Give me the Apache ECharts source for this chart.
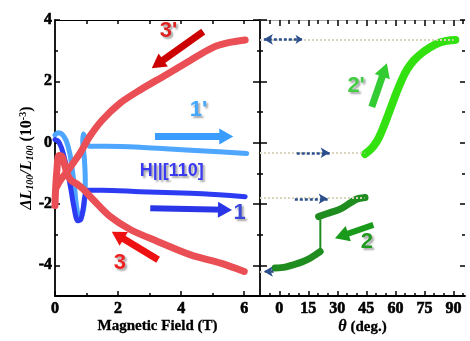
<!DOCTYPE html>
<html>
<head>
<meta charset="utf-8">
<script src="https://cdn.jsdelivr.net/npm/echarts@6/dist/echarts.min.js"></script>
<style>
html, body { margin: 0; background: #fff; }
#chart { width: 470px; height: 341px; }
</style>
</head>
<body>
<div id="chart"></div>
<script>
// tick positions
const fieldTicks = [0, 2, 4, 6];
const fieldMinor = [1, 3, 5];
const fieldTop = [1, 2, 3, 4, 5, 6];
const strainTicks = [-4, -2, 0, 2, 4];
const strainMinor = [-5, -3, -1, 1, 3];
const angleTicks = [0, 15, 30, 45, 60, 75, 90];
const angleMinor = [-5, 5, 10, 20, 25, 35, 40, 50, 55, 65, 70, 80, 85, 95];

// curve 1' (light blue)
const field1p = [0, 0.1, 0.22, 0.35, 0.47, 0.55, 0.62, 0.68, 0.78, 0.88, 0.94, 0.96, 0.93, 0.88, 0.9, 0.98, 1.1, 1.6, 2.7, 3.5, 4.3, 5.2, 6.08];
const strain1p = [0.25, 0.32, 0.28, 0.08, -0.35, -0.9, -1.45, -2.05, -2.5, -2.3, -1.9, -1.2, -0.5, 0.05, 0.28, 0.1, -0.12, -0.12, -0.15, -0.2, -0.25, -0.3, -0.35];
// curve 1 (blue)
const field1 = [0, 0.1, 0.2, 0.3, 0.4, 0.5, 0.6, 0.72, 0.82, 0.9, 0.95, 1.05, 1.5, 2.7, 4.3, 5.2, 6.03];
const strain1 = [0.1, 0.05, -0.15, -0.5, -0.95, -1.5, -2.1, -2.55, -2.5, -2.1, -1.75, -1.55, -1.55, -1.6, -1.65, -1.7, -1.76];
// curve 3' (red, upper)
const field3p = [0.05, 0.15, 0.3, 0.45, 0.6, 0.8, 1.1, 1.5, 2.05, 2.7, 3.5, 4.3, 5.0, 5.5, 6.03];
const strain3p = [-1.45, -1.25, -1.05, -0.85, -0.63, -0.33, 0.2, 0.74, 1.28, 1.72, 2.2, 2.69, 3.1, 3.26, 3.35];
// curve 3 (red, lower)
const field3 = [6.0, 5.25, 4.3, 3.25, 2.4, 1.75, 1.22, 0.9, 0.7, 0.5, 0.38, 0.3, 0.22, 0.12, 0.06, 0.02, 0.0];
const strain3 = [-4.2, -3.93, -3.66, -3.22, -2.84, -2.41, -1.87, -1.52, -1.35, -1.22, -1.0, -0.7, -0.45, -0.42, -0.9, -1.5, -2.05];

// curve 2' (light green)
const angle2p = [44.3, 47.5, 50.5, 53, 55.5, 58, 60.5, 63, 66, 69.5, 74.5, 80.5, 86.5, 91];
const strain2p = [-0.37, -0.2, 0.05, 0.38, 0.78, 1.2, 1.62, 2.0, 2.38, 2.68, 2.96, 3.2, 3.32, 3.35];
// curve 2 (dark green) in three parts
const angle2lo = [-2.2, 3, 7.4, 12, 15.9, 19, 21.1];
const strain2lo = [-4.09, -4.06, -3.98, -3.88, -3.77, -3.64, -3.55];
const angle2step = [21.2, 21.2];
const strain2step = [-3.55, -2.5];
const angle2hi = [20.3, 26.3, 31.4, 36.6, 40, 44.3];
const strain2hi = [-2.41, -2.28, -2.17, -1.97, -1.84, -1.79];

// guide levels carried over to the angle panel
const guideLevels = [3.37, -0.33, -1.8, -4.2];
const guideEnds = [90, 44, 44, -2];

function zip(xs, ys) { return xs.map((x, i) => [x, ys[i]]); }

const SERIF = 'Liberation Serif';
const SANS = 'Liberation Sans';

function tickAxis(grid, pos, min, max, values, len, extra) {
  return Object.assign({
    type: 'value', gridIndex: grid, position: pos, min: min, max: max,
    splitLine: { show: false },
    axisLine: { show: false, onZero: false },
    axisTick: { show: true, inside: true, length: len, customValues: values, lineStyle: { color: '#000', width: 1.5 } },
    axisLabel: { show: false },
    nameMoveOverlap: false
  }, extra || {});
}
const blackLine = { show: true, onZero: false, lineStyle: { color: '#000', width: 1.8 } };
const tickFont = {
  show: true, color: '#000', fontFamily: SERIF, fontWeight: 'bold', fontSize: 16,
  textBorderColor: '#000', textBorderWidth: 0.6
};

function arrow(from, to, color, width) {
  return [
    { coord: from, lineStyle: { color: color, width: width, type: 'solid' } },
    { coord: to }
  ];
}
function tag(pos, text, color, size) {
  return {
    coord: pos, symbol: 'circle', symbolSize: 0,
    label: {
      show: true, position: 'inside', formatter: text, color: color,
      fontFamily: SANS, fontWeight: 'bold', fontSize: size || 22,
      textShadowColor: 'rgba(0,0,0,0.35)', textShadowOffsetX: 2, textShadowOffsetY: 2, textShadowBlur: 2
    }
  };
}
function arrowMark(items) {
  return {
    silent: true, symbol: ['none', 'triangle'], symbolSize: [16, 14],
    label: { show: false }, emphasis: { disabled: true }, animation: false,
    data: items
  };
}

const option = {
  animation: false,
  grid: [
    { left: 55, top: 20, width: 205, height: 276, outerBoundsMode: 'none' },
    { left: 260, top: 20, width: 205, height: 276, outerBoundsMode: 'none' }
  ],
  xAxis: [
    tickAxis(0, 'bottom', 0, 6.5, fieldTicks, 5, {
      axisLine: blackLine,
      axisLabel: Object.assign({ customValues: fieldTicks, margin: 5 }, tickFont),
      name: 'Magnetic Field (T)', nameLocation: 'middle', nameGap: 23,
      nameTextStyle: { color: '#000', fontFamily: SERIF, fontWeight: 'bold', fontSize: 15, textBorderColor: '#000', textBorderWidth: 0.3 }
    }),
    tickAxis(0, 'bottom', 0, 6.5, fieldMinor, 3),
    tickAxis(0, 'top', 0, 6.5, fieldTop, 4, { axisLine: { show: true, onZero: false, lineStyle: { color: '#000', width: 1.2 } } }),
    tickAxis(1, 'bottom', -10, 96, angleTicks, 5, {
      axisLine: blackLine,
      axisLabel: Object.assign({ customValues: angleTicks, margin: 5 }, tickFont),
      name: '{i|θ} (deg.)', nameLocation: 'middle', nameGap: 23,
      nameTextStyle: {
        color: '#000', fontFamily: SERIF, fontWeight: 'bold', fontSize: 15, textBorderColor: '#000', textBorderWidth: 0.3,
        rich: { i: { fontFamily: SERIF, fontStyle: 'italic', fontWeight: 'bold', fontSize: 16, color: '#000' } }
      }
    }),
    tickAxis(1, 'bottom', -10, 96, angleMinor, 3),
    tickAxis(1, 'top', -10, 96, angleTicks, 6, { axisLine: { show: true, onZero: false, lineStyle: { color: '#aaa', width: 1.2 } } }),
    tickAxis(1, 'top', -10, 96, angleMinor, 4)
  ],
  yAxis: [
    tickAxis(0, 'left', -5, 4, strainTicks, 5, {
      axisLine: blackLine,
      axisLabel: Object.assign({ customValues: strainTicks, margin: 3 }, tickFont),
      name: '{i|ΔL}{s|100}{i|/L}{s|100} (10{p|-3})', nameLocation: 'middle', nameGap: 20,
      nameTextStyle: {
        color: '#000', fontFamily: SERIF, fontWeight: 'bold', fontSize: 16,
        rich: {
          i: { fontFamily: SERIF, fontStyle: 'italic', fontWeight: 'bold', fontSize: 16, color: '#000' },
          s: { fontFamily: SERIF, fontStyle: 'italic', fontWeight: 'bold', fontSize: 10, color: '#000', verticalAlign: 'bottom', padding: [7, 0, 0, 0] },
          p: { fontFamily: SERIF, fontWeight: 'bold', fontSize: 10, color: '#000', verticalAlign: 'top', padding: [0, 0, 7, 0] }
        }
      }
    }),
    tickAxis(0, 'left', -5, 4, strainMinor, 3),
    tickAxis(0, 'right', -5, 4, strainTicks, 7, { axisLine: blackLine }),
    tickAxis(0, 'right', -5, 4, strainMinor, 3),
    tickAxis(1, 'left', -5, 4, strainTicks, 7),
    tickAxis(1, 'left', -5, 4, strainMinor, 3),
    tickAxis(1, 'right', -5, 4, strainTicks, 5),
    tickAxis(1, 'right', -5, 4, strainMinor, 3)
  ],
  series: [
    {
      name: "1'", type: 'line', xAxisIndex: 0, yAxisIndex: 0, data: zip(field1p, strain1p),
      smooth: 0.3, showSymbol: false, lineStyle: { color: '#4ea6ff', width: 5, cap: 'round', join: 'round' },
      markLine: arrowMark([arrow([3.17, 0.2], [5.43, 0.2], '#3a9cff', 7)]),
      markPoint: { silent: true, data: [tag([4.55, 1.07], "1'", '#44a8ff')] }
    },
    {
      name: '1', type: 'line', xAxisIndex: 0, yAxisIndex: 0, data: zip(field1, strain1),
      smooth: 0.3, showSymbol: false, lineStyle: { color: '#2d3cf2', width: 5, cap: 'round', join: 'round' },
      markLine: arrowMark([arrow([3.02, -2.14], [5.39, -2.19], '#2a35e8', 6)]),
      markPoint: { silent: true, data: [tag([5.85, -2.3], '1', '#3a48d8'), tag([3.7, -0.91], 'H||[110]', '#3a3af0', 18)] }
    },
    {
      name: "3'", type: 'line', xAxisIndex: 0, yAxisIndex: 0, data: zip(field3p, strain3p),
      smooth: 0.3, showSymbol: false, lineStyle: { color: '#ea4f55', width: 7, cap: 'round', join: 'round' },
      markLine: arrowMark([arrow([4.7, 3.62], [3.25, 2.56], '#cc0000', 7)]),
      markPoint: { silent: true, data: [tag([3.6, 3.64], "3'", '#dd2222')] }
    },
    {
      name: '3', type: 'line', xAxisIndex: 0, yAxisIndex: 0, data: zip(field3, strain3),
      smooth: 0.3, showSymbol: false, lineStyle: { color: '#ea4f55', width: 7, cap: 'round', join: 'round' },
      markLine: arrowMark([arrow([3.27, -3.82], [1.99, -3.02], '#ee1111', 7)]),
      markPoint: { silent: true, data: [tag([2.06, -3.93], '3', '#ee2222')] }
    },
    {
      name: '2 low', type: 'line', xAxisIndex: 3, yAxisIndex: 4, data: zip(angle2lo, strain2lo),
      smooth: 0.3, showSymbol: false, lineStyle: { color: '#1e8c1e', width: 7, cap: 'round', join: 'round' },
      markLine: {
        silent: true, label: { show: false }, emphasis: { disabled: true }, animation: false,
        symbol: ['none', 'none'],
        data: guideLevels.map((v, i) => [
          { coord: [-10, v], lineStyle: { color: '#d9d5bd', width: 2, type: 'dotted' } },
          { coord: [guideEnds[i], v] }
        ]).concat([
          [{ coord: [-8, 3.37], symbol: 'arrow', symbolSize: [8, 9], lineStyle: { color: '#2b4f8c', width: 2.5, type: [3, 2] } }, { coord: [12, 3.37], symbol: 'arrow', symbolSize: [7, 7] }],
          [{ coord: [9, -0.33], lineStyle: { color: '#2b4f8c', width: 2.5, type: [3, 2] } }, { coord: [26, -0.33], symbol: 'arrow', symbolSize: [8, 9] }],
          [{ coord: [8, -1.83], lineStyle: { color: '#2b4f8c', width: 2.5, type: [3, 2] } }, { coord: [25, -1.83], symbol: 'arrow', symbolSize: [8, 9] }],
          [{ coord: [-3, -4.2], lineStyle: { color: '#2b4f8c', width: 2.5, type: [3, 2] } }, { coord: [-8, -4.2], symbol: 'arrow', symbolSize: [8, 9] }]
        ])
      }
    },
    {
      name: '2 step', type: 'line', xAxisIndex: 3, yAxisIndex: 4, data: zip(angle2step, strain2step),
      showSymbol: false, lineStyle: { color: '#1e8c1e', width: 2 }
    },
    {
      name: '2 high', type: 'line', xAxisIndex: 3, yAxisIndex: 4, data: zip(angle2hi, strain2hi),
      smooth: 0.3, showSymbol: false, lineStyle: { color: '#1e8c1e', width: 7, cap: 'round', join: 'round' },
      markLine: arrowMark([arrow([48.6, -2.68], [32.2, -3.04], '#1a9a1a', 6)]),
      markPoint: { silent: true, data: [tag([45.3, -3.24], '2', '#229922')] }
    },
    {
      name: "2'", type: 'line', xAxisIndex: 3, yAxisIndex: 4, data: zip(angle2p, strain2p),
      smooth: 0.4, showSymbol: false, lineStyle: { color: '#33e010', width: 8, cap: 'round', join: 'round' },
      markLine: arrowMark([arrow([47.8, 1.17], [54.4, 2.37], '#33cc33', 7)]),
      markPoint: { silent: true, data: [tag([39.7, 1.85], "2'", '#44cc44')] }
    }
  ]
};

const chart = echarts.init(document.getElementById('chart'));
chart.setOption(option);
</script>
</body>
</html>
